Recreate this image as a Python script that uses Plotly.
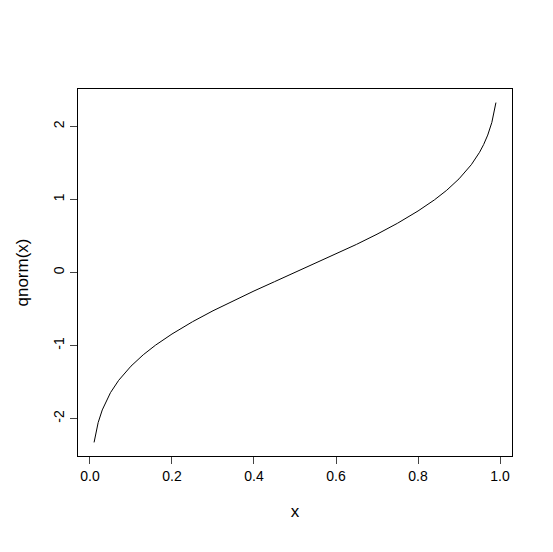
import plotly.graph_objects as go

x_vals = [0.01, 0.02, 0.03, 0.04, 0.05, 0.07, 0.1, 0.13, 0.16, 0.2, 0.25, 0.3, 0.35, 0.4, 0.45, 0.5,
          0.55, 0.6, 0.65, 0.7, 0.75, 0.8, 0.84, 0.87, 0.9, 0.93, 0.95, 0.96, 0.97, 0.98, 0.99]
y_vals = [-2.326, -2.054, -1.881, -1.751, -1.645, -1.476, -1.282, -1.126, -0.994, -0.842, -0.674,
          -0.524, -0.385, -0.253, -0.126, 0.0, 0.126, 0.253, 0.385, 0.524, 0.674, 0.842, 0.994,
          1.126, 1.282, 1.476, 1.645, 1.751, 1.881, 2.054, 2.326]
x_ticks = [0.0, 0.2, 0.4, 0.6, 0.8, 1.0]
y_ticks = [-2, -1, 0, 1, 2]

fig = go.Figure(go.Scatter(x=x_vals, y=y_vals, mode="lines", line=dict(color="black", width=1)))
font = dict(family="Liberation Sans, Arial", size=14, color="black")
fig.update_layout(
    width=553, height=552, paper_bgcolor="white", plot_bgcolor="white",
    margin=dict(l=70, r=49, t=81, b=104, autoexpand=False), showlegend=False, font=font,
    xaxis=dict(range=[-0.0292, 1.0292], tickvals=x_ticks, ticktext=["0.0", "0.2", "0.4", "0.6", "0.8", "1.0"],
               ticks="outside", ticklen=7, showline=True, mirror=True, linecolor="black", linewidth=1,
               showgrid=False, zeroline=False, title=dict(text="x", standoff=22)),
    yaxis=dict(range=[-2.512, 2.512], tickvals=y_ticks, ticktext=["-2", "-1", "0", "1", "2"], tickangle=-90,
               ticks="outside", ticklen=7, showline=True, mirror=True, linecolor="black", linewidth=1,
               showgrid=False, zeroline=False, title=dict(text="qnorm(x)", standoff=18)),
)
fig.write_html("out.html")
